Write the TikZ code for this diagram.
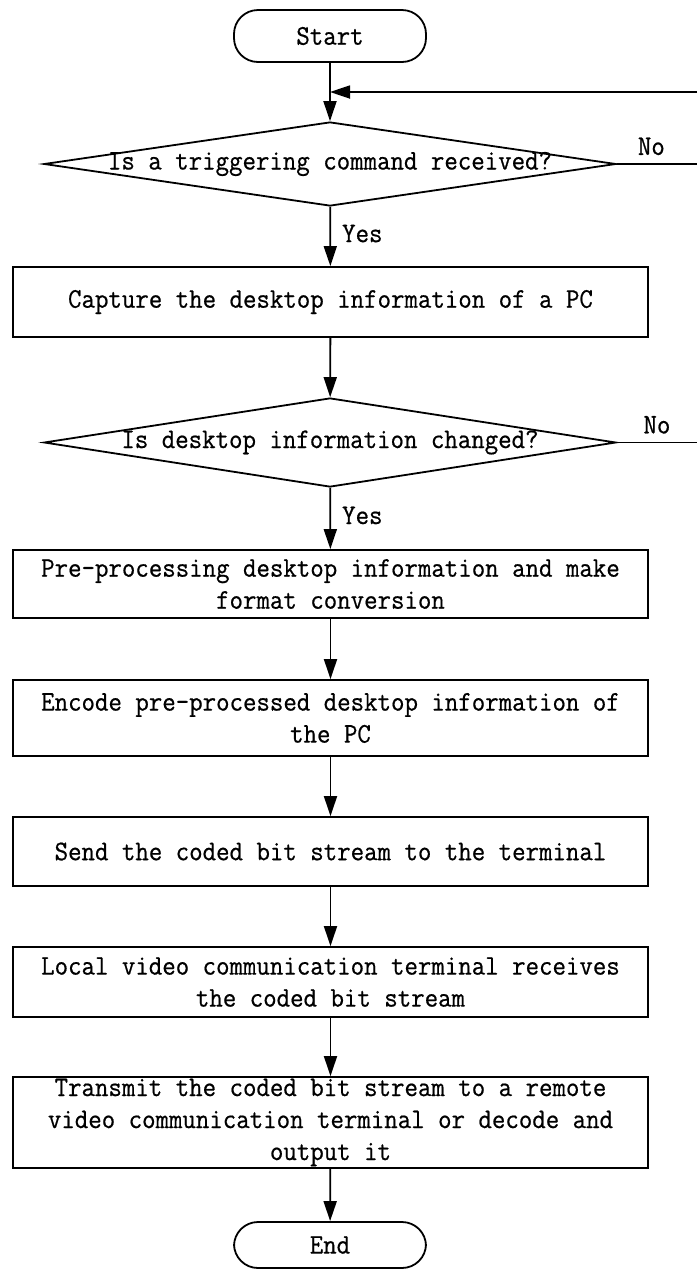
\documentclass[tikz,border=0pt]{standalone}
\usepackage{fontspec}
\setmonofont[FakeStretch=0.92,FakeBold=0.6]{Latin Modern Mono}
\usetikzlibrary{shapes.geometric,arrows.meta}
\begin{document}
\begin{tikzpicture}[x=0.5pt,y=-0.5pt,
  every node/.style={font=\ttfamily\fontsize{14.2pt}{16pt}\selectfont},
  line/.style={line width=0.9pt},
  arr/.style={line, -{Triangle[length=10pt,width=6.5pt]}},
  term/.style={draw, line width=0.9pt, rectangle, rounded corners=12pt, minimum width=96pt, inner sep=0pt},
  proc/.style={draw, line width=0.9pt, rectangle, minimum width=317.5pt, inner sep=0pt, align=center},
  dec/.style={draw, line width=0.9pt, diamond, minimum width=286pt, inner sep=0pt},
  lab/.style={inner sep=0pt}
]
\useasboundingbox (0,0) rectangle (697,1270);

\node[term, minimum height=26pt] (start) at (330,36) {Start};
\node[dec, minimum height=42pt, label={[lab]center:Is a triggering command received?}] (d1) at (330,164) {};
\node[proc, minimum height=35pt] (b1) at (330.5,302) {Capture the desktop information of a PC};
\node[dec, minimum height=44.5pt, label={[lab]center:Is desktop information changed?}] (d2) at (330,442.5) {};
\node[proc, minimum height=34pt] (b2) at (330.5,584) {Pre-processing desktop information and make\\format conversion};
\node[proc, minimum height=38pt] (b3) at (330.5,718) {Encode pre-processed desktop information of\\the PC};
\node[proc, minimum height=34.5pt] (b4) at (330.5,851.5) {Send the coded bit stream to the terminal};
\node[proc, minimum height=35pt] (b5) at (330.5,982) {Local video communication terminal receives\\the coded bit stream};
\node[proc, minimum height=45.5pt] (b6) at (330.5,1122.5) {Transmit the coded bit stream to a remote\\video communication terminal or decode and\\output it};
\node[term, minimum height=23pt] (end) at (330,1245) {End};

\coordinate (join) at (330,92);
\coordinate (fb) at (697,92);
\coordinate (n1) at (697,164);
\coordinate (n2) at (697,442.5);

\draw[arr] (start) -- (d1);
\draw[arr] (fb) -- (join);
\draw[line] (d1.east) -- node[pos=0.43, above, inner sep=4pt] {No} (n1);
\draw[arr] (d1) -- node[pos=0.45, anchor=west, xshift=5pt, inner sep=0.5pt] {Yes} (b1);
\draw[arr] (b1) -- (d2);
\draw[line] (d2.east) -- node[pos=0.5, above, inner sep=4pt] {No} (n2);
\draw[arr] (d2) -- node[pos=0.45, anchor=west, xshift=5pt, inner sep=0.5pt] {Yes} (b2);
\draw[arr] (b2) -- (b3);
\draw[arr] (b3) -- (b4);
\draw[arr] (b4) -- (b5);
\draw[arr] (b5) -- (b6);
\draw[arr] (b6) -- (end);
\end{tikzpicture}
\end{document}
